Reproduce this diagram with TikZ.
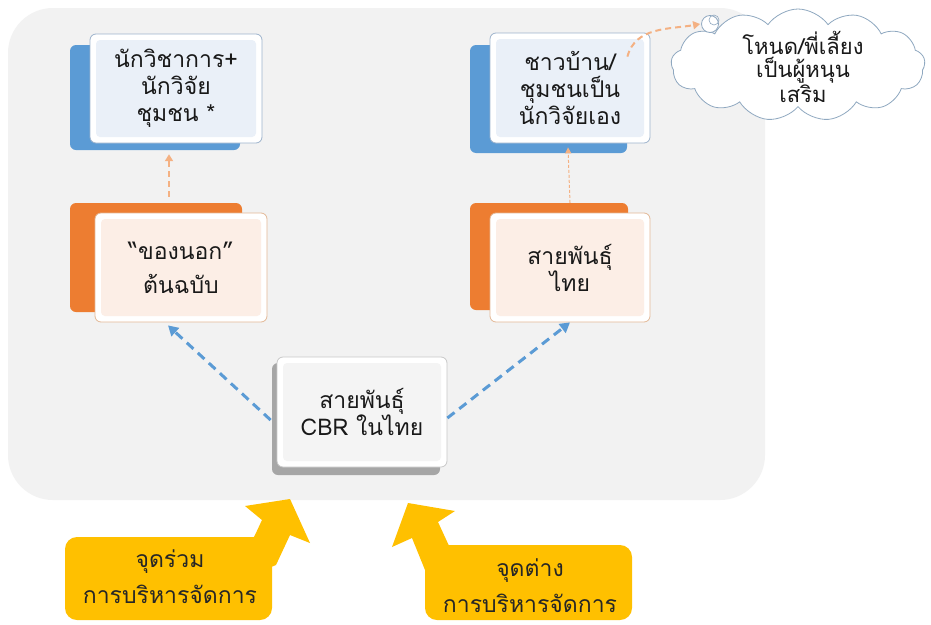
\documentclass[tikz,border=0pt]{standalone}
\usepackage{fontspec}
\newfontfamily\thai[Script=Thai]{Loma}
\usetikzlibrary{shapes.symbols,calc,arrows.meta}
\definecolor{bgGray}{HTML}{F2F2F2}
\definecolor{blueBack}{HTML}{5B9BD5}
\definecolor{orangeBack}{HTML}{ED7D31}
\definecolor{blueTint}{HTML}{EAF0F8}
\definecolor{orangeTint}{HTML}{FCEEE6}
\definecolor{greyTint}{HTML}{F4F4F4}
\definecolor{blueEdge}{HTML}{9DB3CC}
\definecolor{orangeEdge}{HTML}{E3B896}
\definecolor{greyEdge}{HTML}{C8C8C8}
\definecolor{shadowGray}{HTML}{A6A6A6}
\definecolor{yellowC}{HTML}{FFC000}
\definecolor{arrowBlue}{HTML}{5B9BD5}
\definecolor{arrowOrange}{HTML}{F4B183}
\definecolor{cloudEdge}{HTML}{8FA8C0}
\tikzset{
  backbox/.style={rectangle, rounded corners=6pt, draw=none, fill=#1},
  frontbox/.style 2 args={rectangle, rounded corners=6pt, draw=#1, line width=0.8pt, fill=white,
    font=\thai\fontsize{23}{27}\selectfont, align=center, text=black!90,
    path picture={\fill[#2, rounded corners=4pt]
      ([xshift=6pt,yshift=-6pt]path picture bounding box.north west) rectangle
      ([xshift=-6pt,yshift=6pt]path picture bounding box.south east);}},
  bluedash/.style={draw=arrowBlue, line width=3pt, dash pattern=on 9pt off 6pt,
    -{Triangle[length=10pt,width=11pt]}},
  orangedash/.style={draw=arrowOrange, line width=2pt, dash pattern=on 6pt off 4pt,
    -{Triangle[length=7pt,width=8pt]}},
  calltext/.style={font=\thai\fontsize{23}{36}\selectfont, align=center, text=black!85},
}
\begin{document}
\begin{tikzpicture}[x=1pt,y=-1pt]
\useasboundingbox (0,0) rectangle (931,624);
\fill[white] (0,0) rectangle (931,624);
% background panel
\fill[bgGray, rounded corners=45pt] (8,8) rectangle (765,500);

% top-left
\node[backbox=blueBack, minimum width=170pt, minimum height=105pt] (tlb) at (155,97.5) {};
\node[frontbox={blueEdge}{blueTint}, minimum width=172pt, minimum height=109pt] (tl) at (176,88.5)
  {นักวิชาการ+\\นักวิจัย\\ชุมชน *};
% top-right
\node[backbox=blueBack, minimum width=157pt, minimum height=108pt] (trb) at (548.5,99) {};
\node[frontbox={blueEdge}{blueTint}, minimum width=160pt, minimum height=110pt] (tr) at (570,88)
  {ชาวบ้าน/\\ชุมชนเป็น\\นักวิจัยเอง};
% mid-left
\node[backbox=orangeBack, minimum width=172pt, minimum height=109pt] (mlb) at (156,257.5) {};
\node[frontbox={orangeEdge}{orangeTint}, minimum width=172pt, minimum height=109pt] (ml) at (181,267.5)
  {“ของนอก”\\[7pt]ต้นฉบับ};
% mid-right
\node[backbox=orangeBack, minimum width=158pt, minimum height=107pt] (mrb) at (549,256.5) {};
\node[frontbox={orangeEdge}{orangeTint}, minimum width=160pt, minimum height=109pt] (mr) at (570,267.5)
  {สายพันธุ์\\ไทย};
% bottom
\node[backbox=shadowGray, minimum width=168pt, minimum height=112pt] (cbrb) at (356,419) {};
\node[frontbox={greyEdge}{greyTint}, minimum width=170pt, minimum height=110pt] (cbr) at (362,412)
  {สายพันธุ์\\CBR ในไทย};

% cloud
\node[cloud, cloud puffs=13, cloud puff arc=110, aspect=2.3, draw=cloudEdge, line width=0.8pt, fill=white,
  minimum width=254pt, minimum height=112pt, inner sep=0pt] (cl) at (798,65) {};
\node[font=\thai\fontsize{22}{23}\selectfont, align=center, text=black!90] (clt) at (803,67)
  {โหนด/พี่เลี้ยง\\เป็นผู้หนุน\\เสริม};
\node[circle, draw=cloudEdge, line width=0.8pt, fill=white, minimum size=17pt, inner sep=0pt] (bub) at (710,24) {};
\draw[cloudEdge, line width=0.6pt] (714,20) circle (5pt);

% connectors
\draw[bluedash] ([xshift=-6pt,yshift=-8pt]cbr.west) -- ([xshift=-13pt,yshift=-3pt]ml.south);
\draw[bluedash] ([yshift=-6pt]cbr.east) -- ([yshift=0pt]mr.south);
\draw[orangedash] ([xshift=13pt,yshift=6pt]mlb.north) -- ([xshift=14pt,yshift=-4pt]tlb.south);
\draw[draw=arrowOrange, line width=1pt, dash pattern=on 3pt off 2pt, -{Triangle[length=6pt,width=6pt]}]
  (mr.north |- mrb.north) -- ([xshift=-2pt,yshift=-4pt]tr.south);
\draw[orangedash] ([xshift=-23pt,yshift=-24pt]tr.north east) to[out=75, in=190] ([xshift=-1pt]bub.west);

% yellow callouts
\fill[yellowC, rounded corners=12pt] (65,537) rectangle (272,620);
\fill[yellowC] (240,560) -- (255,535) -- (262,520) -- (245,506) -- (290,499) -- (310,543)
  -- (290,535) -- (276,565) -- (240,580) -- cycle;
\node[calltext] (c1) at (170,577) {จุดร่วม\\การบริหารจัดการ};

\fill[yellowC, rounded corners=12pt] (425,545) rectangle (632,620);
\fill[yellowC] (412,538) -- (392,547) -- (408,503) -- (455,511) -- (438,522) -- (450,548)
  -- (440,570) -- (425,570) -- cycle;
\node[calltext] (c2) at (530,586) {จุดต่าง\\การบริหารจัดการ};
\end{tikzpicture}
\end{document}
